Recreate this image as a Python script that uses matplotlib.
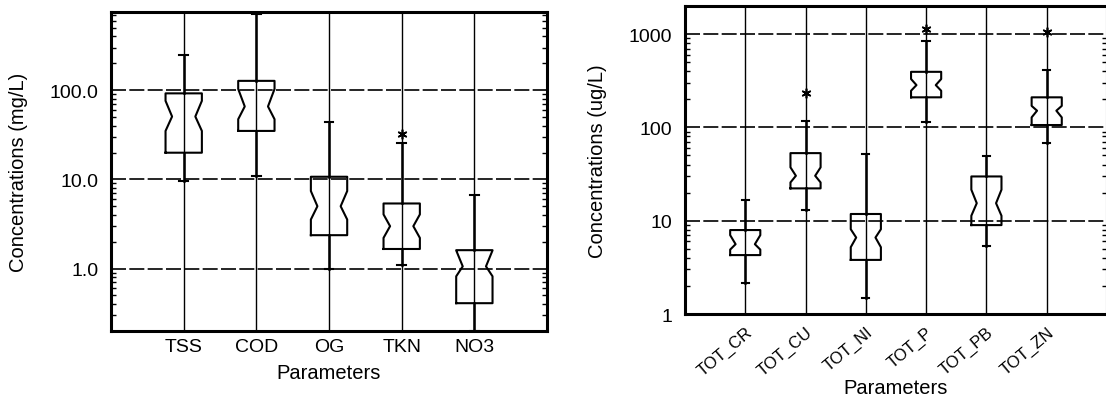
import matplotlib
matplotlib.use("Agg")
import matplotlib.pyplot as plt
from matplotlib.ticker import FixedLocator, FixedFormatter, LogLocator, NullFormatter

plt.rcParams['font.family'] = ['Liberation Sans', 'DejaVu Sans']

# ---------------- data: left panel (mg/L) ----------------
left_params = ['TSS', 'COD', 'OG', 'TKN', 'NO3']
left_q1 = [19.9, 34.9, 2.37, 1.66, 0.41]
left_q3 = [92.0, 127.0, 10.7, 5.37, 1.61]
left_med = [50.6, 65.6, 5.0, 2.99, 1.06]
left_cilo = [34.9, 47.2, 3.55, 2.21, 0.82]
left_cihi = [75.8, 103.0, 7.4, 4.05, 1.60]
left_whislo = [9.6, 10.9, 0.98, 1.11, 0.2]
left_whishi = [247.0, 714.0, 44.5, 25.4, 6.6]
left_fliers = [[], [], [], [32.6], []]
left_yticks = [1, 10, 100]
left_yticklabels = ['1.0', '10.0', '100.0']

# ---------------- data: right panel (ug/L) ----------------
right_params = ['TOT_CR', 'TOT_CU', 'TOT_NI', 'TOT_P', 'TOT_PB', 'TOT_ZN']
right_q1 = [4.28, 22.2, 3.8, 210.0, 8.97, 106.0]
right_q3 = [7.94, 53.0, 11.8, 394.0, 29.8, 210.0]
right_med = [5.6, 30.3, 6.6, 284.0, 15.4, 151.0]
right_cilo = [4.9, 25.7, 5.2, 247.0, 11.3, 128.0]
right_cihi = [7.0, 37.3, 8.1, 330.0, 21.5, 170.0]
right_whislo = [2.14, 13.0, 1.5, 115.0, 5.38, 68.0]
right_whishi = [16.6, 116.0, 51.8, 849.0, 48.9, 414.0]
right_fliers = [[], [233.0], [], [1132.0], [], [1059.0]]
right_yticks = [1, 10, 100, 1000]
right_yticklabels = ['1', '10', '100', '1000']

BOX_W = 0.5
WAIST = 0.16  # half-width of the notch waist, in x units


def make_stats(params, q1, q3, med, cilo, cihi, wlo, whi, fl):
    out = []
    for i in range(len(params)):
        out.append(dict(label=params[i], q1=q1[i], q3=q3[i], med=med[i],
                        cilo=cilo[i], cihi=cihi[i], whislo=wlo[i],
                        whishi=whi[i], fliers=fl[i]))
    return out


def draw(ax, stats, yticks, yticklabels, ylim, ylabel, rot):
    n = len(stats)
    pos = list(range(1, n + 1))
    ax.set_yscale('log')
    art = ax.bxp(stats, positions=pos, widths=BOX_W, shownotches=True,
                 capwidths=0.12,
                 boxprops=dict(color='black', linewidth=1.5),
                 whiskerprops=dict(color='black', linewidth=1.8),
                 capprops=dict(color='black', linewidth=1.5),
                 medianprops=dict(linestyle='none'),
                 flierprops=dict(marker=(6, 2, 0), markersize=7,
                                 markeredgewidth=1.2,
                                 markerfacecolor='black',
                                 markeredgecolor='black'))
    # narrow the notch waist to match the original rendering
    for p, s, line in zip(pos, stats, art['boxes']):
        xs = list(line.get_xdata())
        ys = list(line.get_ydata())
        for k in range(len(xs)):
            if ys[k] == s['med']:
                xs[k] = p + WAIST if xs[k] > p else p - WAIST
        line.set_xdata(xs)
    ax.set_xlim(0, n + 1)
    ax.set_ylim(*ylim)
    ax.xaxis.set_major_locator(FixedLocator(pos))
    ax.xaxis.set_major_formatter(FixedFormatter([s['label'] for s in stats]))
    ax.yaxis.set_major_locator(FixedLocator(yticks))
    ax.yaxis.set_major_formatter(FixedFormatter(yticklabels))
    ax.yaxis.set_minor_locator(LogLocator(base=10, subs=range(2, 10), numticks=20))
    ax.yaxis.set_minor_formatter(NullFormatter())
    ax.grid(axis='x', which='major', color='black', linewidth=1.0, linestyle='-')
    ax.grid(axis='y', which='major', color='black', linewidth=1.2,
            linestyle=(0, (9, 2)))
    ax.set_axisbelow(True)
    ax.tick_params(axis='x', which='both', length=0, pad=5, labelsize=14)
    ax.tick_params(axis='y', which='major', direction='in', length=0, pad=9,
                   labelsize=14, right=True)
    ax.tick_params(axis='y', which='minor', direction='in', length=3.5,
                   width=1.0, left=True, right=True)
    for sp in ax.spines.values():
        sp.set_linewidth(2.2)
        sp.set_color('black')
    ax.set_ylabel(ylabel, fontsize=14.5)
    ax.set_xlabel('Parameters', fontsize=14.5)
    if rot:
        for lab in ax.get_xticklabels():
            lab.set_rotation(40)
            lab.set_ha('right')
            lab.set_va('top')
            lab.set_rotation_mode('anchor')
            lab.set_fontsize(12)


fig = plt.figure(figsize=(11.06, 4.02), dpi=100)
ax1 = fig.add_axes([0.1004, 0.1741, 0.3942, 0.7935])
ax2 = fig.add_axes([0.6193, 0.2164, 0.3816, 0.7662])

draw(ax1, make_stats(left_params, left_q1, left_q3, left_med, left_cilo,
                     left_cihi, left_whislo, left_whishi, left_fliers),
     left_yticks, left_yticklabels, (0.2, 750), 'Concentrations (mg/L)', False)
draw(ax2, make_stats(right_params, right_q1, right_q3, right_med, right_cilo,
                     right_cihi, right_whislo, right_whishi, right_fliers),
     right_yticks, right_yticklabels, (1, 2000), 'Concentrations (ug/L)', True)

ax1.yaxis.set_label_coords(-0.19, 0.5)
ax1.xaxis.set_label_coords(0.5, -0.100)
ax2.yaxis.set_label_coords(-0.185, 0.5)
ax2.xaxis.set_label_coords(0.5, -0.208)
ax2.tick_params(axis='x', pad=7)

fig.savefig('out.png', dpi=100)
